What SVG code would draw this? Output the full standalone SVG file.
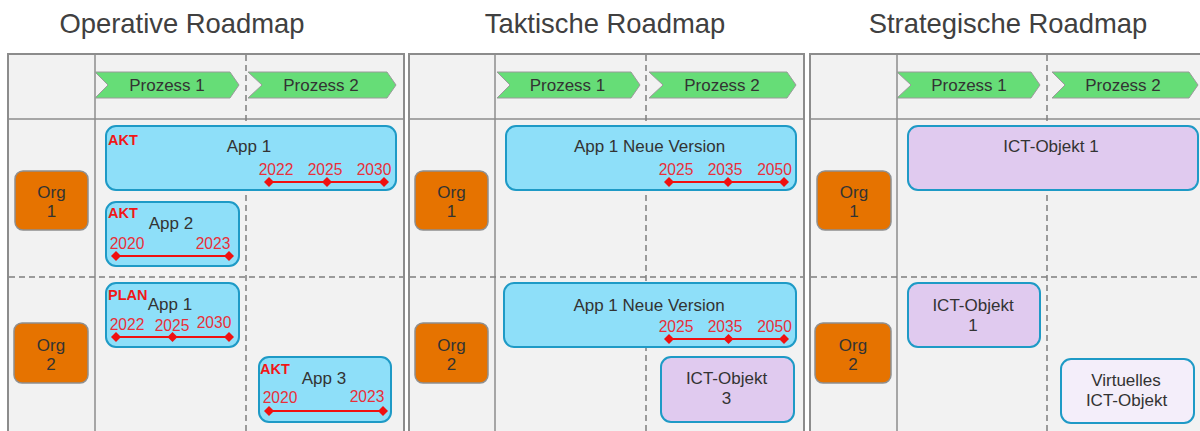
<svg xmlns="http://www.w3.org/2000/svg" width="1200" height="431" viewBox="0 0 1200 431">
<style>
text{font-family:"Liberation Sans",Arial,sans-serif}
.title{font-size:27.4px;fill:#404040;text-anchor:middle}
.panel{fill:#f2f2f2;stroke:#8c8c8c;stroke-width:2}
.grid{stroke:#8c8c8c;stroke-width:1.5}
.dash{stroke:#7f7f7f;stroke-width:1.5;stroke-dasharray:6 4}
.chev{fill:#66dd77;stroke:#9a9a9a;stroke-width:1}
.lbl{font-size:17px;fill:#333;text-anchor:middle}
.org{fill:#e67300;stroke:#8f8f8f;stroke-width:1.5}
.app{fill:#8edff9;stroke:#1e9ac6;stroke-width:2}
.ict{fill:#e0caef;stroke:#1e9ac6;stroke-width:2}
.virt{fill:#f4eefa;stroke:#1e9ac6;stroke-width:2}
.status{font-size:14.5px;font-weight:bold;fill:#f01818}
.yr{font-size:15.6px;fill:#e8303a;text-anchor:middle}
.tl{stroke:#f01010;stroke-width:2;fill:none;marker-start:url(#dia);marker-mid:url(#dia);marker-end:url(#dia)}
</style>
<defs>
<marker id="dia" viewBox="-5 -5 10 10" refX="0" refY="0" markerWidth="10" markerHeight="10" markerUnits="userSpaceOnUse" orient="0">
<path d="M0,-5 L5,0 L0,5 L-5,0 Z" fill="#f01010"/>
</marker>
</defs>
<rect width="1200" height="431" fill="#fff"/>

<g id="titles">
<text class="title" x="182" y="33">Operative Roadmap</text>
<text class="title" x="605" y="33">Taktische Roadmap</text>
<text class="title" x="1008" y="33">Strategische Roadmap</text>
</g>

<g id="grid">
<rect class="panel" x="8" y="54" width="396" height="390"/>
<rect class="panel" x="409" y="54" width="395" height="390"/>
<rect class="panel" x="810" y="54" width="400" height="390"/>
<line class="grid" x1="8" y1="119" x2="404" y2="119"/>
<line class="grid" x1="409" y1="119" x2="804" y2="119"/>
<line class="grid" x1="810" y1="119" x2="1210" y2="119"/>
<line class="grid" x1="95" y1="54" x2="95" y2="431"/>
<line class="grid" x1="495" y1="54" x2="495" y2="431"/>
<line class="grid" x1="897" y1="54" x2="897" y2="431"/>
<line class="dash" x1="246" y1="55" x2="246" y2="431"/>
<line class="dash" x1="646" y1="55" x2="646" y2="431"/>
<line class="dash" x1="1047" y1="55" x2="1047" y2="431"/>
<line class="dash" x1="9" y1="277" x2="403" y2="277"/>
<line class="dash" x1="410" y1="277" x2="803" y2="277"/>
<line class="dash" x1="811" y1="277" x2="1200" y2="277"/>
</g>

<g id="processes">
<g id="op-p1"><polygon class="chev" points="95,72 230,72 239,85 230,98 95,98 108,85"/><text class="lbl" x="167" y="91">Prozess 1</text></g>
<g id="op-p2"><polygon class="chev" points="248,72 387,72 396,85 387,98 248,98 262,85"/><text class="lbl" x="321" y="91">Prozess 2</text></g>
<g id="tak-p1"><polygon class="chev" points="497,72 631,72 640,85 631,98 497,98 510,85"/><text class="lbl" x="567.5" y="91">Prozess 1</text></g>
<g id="tak-p2"><polygon class="chev" points="649,72 787,72 796,85 787,98 649,98 663,85"/><text class="lbl" x="722" y="91">Prozess 2</text></g>
<g id="str-p1"><polygon class="chev" points="897,72 1031,72 1040,85 1031,98 897,98 911,85"/><text class="lbl" x="969" y="91">Prozess 1</text></g>
<g id="str-p2"><polygon class="chev" points="1052,72 1189,72 1198,85 1189,98 1052,98 1065,85"/><text class="lbl" x="1123" y="91">Prozess 2</text></g>
</g>

<g id="orgs">
<g id="op-org1"><rect class="org" x="15" y="171" width="73" height="59" rx="8"/><text class="lbl" x="51.5" y="198">Org</text><text class="lbl" x="51.5" y="217">1</text></g>
<g id="op-org2"><rect class="org" x="14" y="323" width="74" height="60" rx="8"/><text class="lbl" x="51" y="351">Org</text><text class="lbl" x="51" y="370">2</text></g>
<g id="tak-org1"><rect class="org" x="415" y="171" width="73" height="59" rx="8"/><text class="lbl" x="451.5" y="198">Org</text><text class="lbl" x="451.5" y="217">1</text></g>
<g id="tak-org2"><rect class="org" x="415" y="323" width="73" height="60" rx="8"/><text class="lbl" x="451.5" y="351">Org</text><text class="lbl" x="451.5" y="370">2</text></g>
<g id="str-org1"><rect class="org" x="817" y="171" width="74" height="59" rx="8"/><text class="lbl" x="854" y="198">Org</text><text class="lbl" x="854" y="217">1</text></g>
<g id="str-org2"><rect class="org" x="815" y="323" width="76" height="60" rx="8"/><text class="lbl" x="853" y="351">Org</text><text class="lbl" x="853" y="370">2</text></g>
</g>

<g id="op-app1-org1">
<rect class="app" x="106" y="126" width="290" height="64" rx="10"/>
<text class="status" x="108" y="145">AKT</text>
<text class="lbl" x="249" y="152">App 1</text>
<text class="yr" x="276" y="175">2022</text><text class="yr" x="325" y="175">2025</text><text class="yr" x="374" y="175">2030</text>
<polyline class="tl" points="269,182 327,182 384,182"/>
</g>
<g id="op-app2">
<rect class="app" x="106" y="202" width="133" height="64" rx="10"/>
<text class="status" x="108" y="218">AKT</text>
<text class="lbl" x="171" y="229">App 2</text>
<text class="yr" x="127" y="249">2020</text><text class="yr" x="213" y="249">2023</text>
<polyline class="tl" points="116,256 229,256"/>
</g>
<g id="op-app1-org2">
<rect class="app" x="106" y="283" width="133" height="64" rx="10"/>
<text class="status" x="108" y="300">PLAN</text>
<text class="lbl" x="170" y="310">App 1</text>
<text class="yr" x="127" y="330">2022</text><text class="yr" x="172" y="331">2025</text><text class="yr" x="214" y="328">2030</text>
<polyline class="tl" points="116,337 172.5,337 229,337"/>
</g>
<g id="op-app3">
<rect class="app" x="259" y="357" width="132" height="65" rx="10"/>
<text class="status" x="260" y="374">AKT</text>
<text class="lbl" x="324" y="384">App 3</text>
<text class="yr" x="280" y="403">2020</text><text class="yr" x="367" y="402">2023</text>
<polyline class="tl" points="269,411 383,411"/>
</g>

<g id="tak-app1-org1">
<rect class="app" x="506" y="126" width="290" height="64" rx="10"/>
<text class="lbl" x="649.5" y="152">App 1 Neue Version</text>
<text class="yr" x="676" y="175">2025</text><text class="yr" x="725" y="175">2035</text><text class="yr" x="774.5" y="175">2050</text>
<polyline class="tl" points="669,182 728,182 784,182"/>
</g>
<g id="tak-app1-org2">
<rect class="app" x="504" y="283" width="292" height="64" rx="10"/>
<text class="lbl" x="649" y="311">App 1 Neue Version</text>
<text class="yr" x="676" y="332">2025</text><text class="yr" x="725" y="332">2035</text><text class="yr" x="774.5" y="332">2050</text>
<polyline class="tl" points="669,339 728.5,339 784,339"/>
</g>
<g id="tak-ict3">
<rect class="ict" x="661" y="357" width="133" height="65" rx="10"/>
<text class="lbl" x="726.5" y="384">ICT-Objekt</text>
<text class="lbl" x="726.5" y="404">3</text>
</g>

<g id="str-ict1-org1">
<rect class="ict" x="908" y="126" width="290" height="64" rx="10"/>
<text class="lbl" x="1051" y="152">ICT-Objekt 1</text>
</g>
<g id="str-ict1-org2">
<rect class="ict" x="908" y="283" width="132" height="64" rx="10"/>
<text class="lbl" x="973" y="311">ICT-Objekt</text>
<text class="lbl" x="973" y="331">1</text>
</g>
<g id="str-virtual">
<rect class="virt" x="1061" y="359" width="133" height="64" rx="10"/>
<text class="lbl" x="1126" y="386">Virtuelles</text>
<text class="lbl" x="1126.5" y="406">ICT-Objekt</text>
</g>
</svg>
